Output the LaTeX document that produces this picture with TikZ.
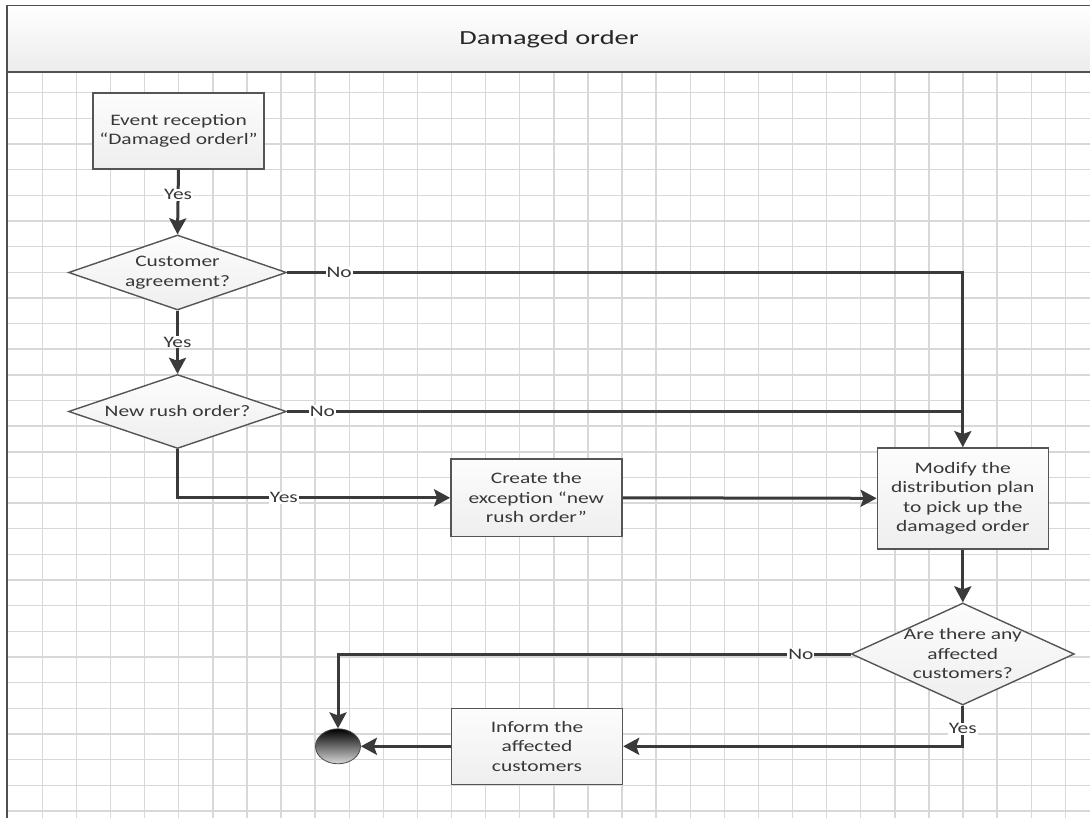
\documentclass[tikz,border=0pt]{standalone}
\usepackage{fontspec}
\setmainfont[FakeStretch=1.34]{Carlito}
\newfontfamily\titlefont[FakeStretch=1.42]{Carlito}
\usetikzlibrary{arrows.meta,shapes.geometric,calc}
\definecolor{gridc}{HTML}{D8D8D8}
\definecolor{linec}{HTML}{3A3A3A}
\definecolor{boxline}{HTML}{555555}
\definecolor{txtc}{HTML}{383838}
\definecolor{framec}{HTML}{505050}
\tikzset{
  gridl/.style={draw=gridc, line width=1.4pt},
  framel/.style={draw=framec, line width=1.8pt},
  bodyfont/.style={font=\fontsize{16}{19.5}\selectfont},
  box/.style={rectangle, draw=boxline, line width=1.4pt, top color=gray!2, bottom color=gray!13,
    minimum width=171pt, align=center, text=txtc, bodyfont, inner sep=2pt},
  dia/.style={diamond, draw=boxline, line width=1.4pt, top color=gray!2, bottom color=gray!13, inner sep=0pt},
  dtext/.style={align=center, text=txtc, bodyfont, inner sep=0pt},
  conn/.style={draw=linec, line width=3pt, -{Stealth[length=16pt,width=17pt,inset=3pt]}},
  connplain/.style={draw=linec, line width=3pt},
  lbl/.style={fill=white, inner sep=1pt, text=txtc, bodyfont},
  endcirc/.style={ellipse, draw=gray!60!black, line width=0.8pt, top color=black, bottom color=gray!30,
    minimum width=45pt, minimum height=35pt, inner sep=0pt},
  titlestyle/.style={text=black!85, font=\titlefont\fontsize{20}{24}\selectfont, inner sep=0pt}
}
\begin{document}
\begin{tikzpicture}[x=1pt,y=-1pt]
\useasboundingbox (0,0) rectangle (1090,818);
\fill[white] (0,0) rectangle (1090,818);
% grid
\foreach \k in {1,...,31} \draw[gridl] ({8.2+34.1*\k},72) -- ({8.2+34.1*\k},818);
\foreach \k in {0,...,28} \draw[gridl] (8,{92.7+25.65*\k}) -- (1090,{92.7+25.65*\k});
% header
\shade[top color=white, bottom color=gray!15] (7,5.5) rectangle (1092,72);
\draw[framel] (1092,5.5) -- (7,5.5) -- (7,818);
\draw[framel] (7,72) -- (1092,72);
\node[titlestyle] (title) at (549,39) {Damaged order};
% nodes
\node[box, minimum height=76pt] (ev) at (178.5,131) {Event reception\\“Damaged orderl”};
\node[dia, minimum width=218pt, minimum height=75pt] (d1) at (177.5,272.5) {};
\node[dtext] (d1t) at (d1.center) {Customer\\agreement?};
\node[dia, minimum width=218pt, minimum height=74pt] (d2) at (177.5,411.5) {};
\node[dtext] (d2t) at (d2.center) {New rush order?};
\node[box, minimum height=77.7pt] (cr) at (536.3,497.8) {Create the\\exception “new\\rush order”};
\node[box, minimum height=101pt] (md) at (962.8,498.3) {Modify the\\distribution plan\\to pick up the\\damaged order};
\node[dia, minimum width=223pt, minimum height=102pt] (d3) at (962.8,654) {};
\node[dtext] (d3t) at (d3.center) {Are there any\\affected\\customers?};
\node[box, minimum height=76pt] (inf) at (537,746.3) {Inform the\\affected\\customers};
\node[endcirc] (endc) at (338,746.3) {};
% connectors
\draw[conn] (ev.south) -- node[lbl,pos=0.39]{Yes} (d1.north);
\draw[conn] (d1.south) -- node[lbl,pos=0.5]{Yes} (d2.north);
\draw[conn] (d1.east) -- node[lbl,pos=0.077]{No} (d1.east -| md.north) -- (md.north);
\draw[connplain] (d2.east) -- node[lbl,pos=0.052]{No} (d2.east -| md.north);
\draw[conn] (d2.south) -- (d2.south |- cr.west) -- node[lbl,pos=0.39]{Yes} (cr.west);
\draw[conn] (cr.east) -- (md.west);
\draw[conn] (md.south) -- (d3.north);
\draw[conn] (d3.west) -- node[lbl,pos=0.097]{No} (d3.west -| endc.north) -- (endc.north);
\draw[conn] (d3.south) -- node[lbl,pos=0.57]{Yes} (d3.south |- inf.east) -- (inf.east);
\draw[conn] (inf.west) -- (endc.east);
\end{tikzpicture}
\end{document}
